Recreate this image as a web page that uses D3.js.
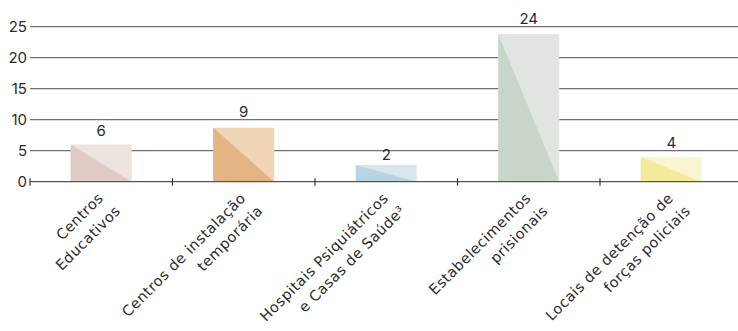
<!DOCTYPE html>
<html>
<head>
<meta charset="utf-8">
<script src="https://cdn.jsdelivr.net/npm/d3@7"></script>
<style>
html,body{margin:0;padding:0;background:#fff;}
svg{display:block;}
text{font-family:Inter,"Open Sans",sans-serif;fill:#2b2b2b;}
text.cat{font-family:"DejaVu Sans",sans-serif;letter-spacing:0.5px;}
</style>
</head>
<body>
<svg id="chart" width="738" height="331"></svg>
<script>
const categories = [
  ["Centros", "Educativos"],
  ["Centros de instalação", "temporária"],
  ["Hospitais Psiquiátricos", "e Casas de Saúde³"],
  ["Estabelecimentos", "prisionais"],
  ["Locais de detenção de", "forças policiais"]
];
const values = [6, 8.7, 2.7, 23.8, 4];       // drawn bar heights
const valueLabels = [6, 9, 2, 24, 4];          // printed labels
const yTicks = [0, 5, 10, 15, 20, 25];
const lightColors = ["#ede4df", "#f0d5b6", "#d8e6ed", "#e0e6df", "#f8f5d0"];
const darkColors  = ["#e0cbc4", "#e3b585", "#b8d4e0", "#c7d6c9", "#f2eb9c"];

const svg = d3.select("#chart");
const x = d3.scaleBand().domain(d3.range(categories.length)).range([30, 742.5]).paddingInner(0.572).paddingOuter(0.286);
const y = d3.scaleLinear().domain([0, 25]).range([181.7, 26.7]);

// gridlines
svg.append("g").selectAll("line").data(yTicks.filter(d => d > 0)).join("line")
  .attr("x1", 30).attr("x2", 738)
  .attr("y1", d => y(d)).attr("y2", d => y(d))
  .attr("stroke", "#707070").attr("stroke-width", 1.3);

// y tick labels
svg.append("g").selectAll("text").data(yTicks).join("text")
  .attr("x", 27).attr("y", d => y(d)).attr("dy", "0.36em")
  .attr("text-anchor", "end").style("font-size", "15px")
  .text(d => d);

// bars
const bars = svg.append("g").selectAll("g").data(values).join("g");
bars.append("rect")
  .attr("x", (d, i) => x(i)).attr("width", x.bandwidth())
  .attr("y", d => y(d)).attr("height", d => y(0) - y(d))
  .attr("fill", (d, i) => lightColors[i]);
bars.append("path")
  .attr("d", (d, i) => {
    const x0 = x(i), x1 = x(i) + x.bandwidth();
    return `M${x0},${y(d)}L${x0},${y(0)}L${x1},${y(0)}Z`;
  })
  .attr("fill", (d, i) => darkColors[i]);

// baseline + ticks
svg.append("line").attr("x1", 30).attr("x2", 738).attr("y1", y(0)).attr("y2", y(0))
  .attr("stroke", "#555").attr("stroke-width", 1.3);
const step = x.step();
const tickXs = d3.range(categories.length).map(i => x(i) - (step - x.bandwidth()) / 2);
svg.append("g").selectAll("line").data(tickXs).join("line")
  .attr("x1", d => d).attr("x2", d => d)
  .attr("y1", y(0) - 3.5).attr("y2", y(0) + 4)
  .attr("stroke", "#333").attr("stroke-width", 1.2);

// value labels
svg.append("g").selectAll("text").data(valueLabels).join("text")
  .attr("x", (d, i) => x(i) + x.bandwidth() / 2)
  .attr("y", d => y(d) - 9)
  .attr("text-anchor", "middle").style("font-size", "15px")
  .text(d => d);

// category labels
const cl = svg.append("g").selectAll("text").data(categories).join("text")
  .attr("class", "cat")
  .attr("transform", (d, i) => `translate(${x(i) + x.bandwidth() / 2 + 3},199) rotate(-45)`)
  .attr("text-anchor", "end").style("font-size", "14.5px");
cl.selectAll("tspan").data(d => d).join("tspan")
  .attr("x", (d, j) => j === 0 ? 0 : 3)
  .attr("y", (d, j) => j * 21)
  .text(d => d);
</script>
</body>
</html>
